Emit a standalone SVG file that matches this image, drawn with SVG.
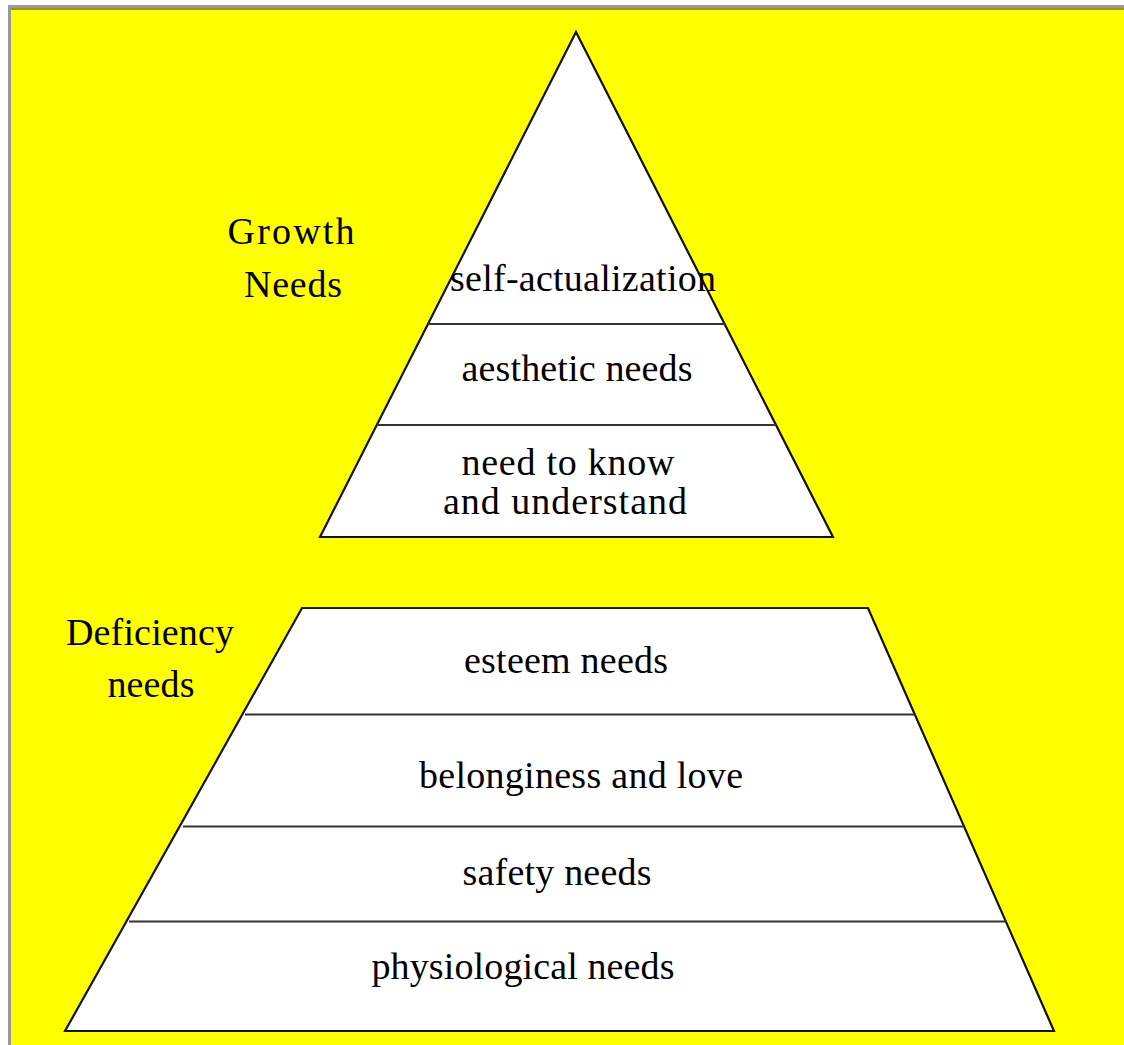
<svg xmlns="http://www.w3.org/2000/svg" width="1124" height="1045" viewBox="0 0 1124 1045">
<style>
.t{font-family:"Liberation Serif","Times New Roman",serif;font-size:38px;fill:#000;text-anchor:middle}
.shape{fill:#fff;stroke:#111;stroke-width:2.2;stroke-linejoin:miter}
.div{stroke:#333;stroke-width:2}
</style>
<rect x="0" y="0" width="1124" height="1045" fill="#fff"/>
<rect x="10" y="7" width="1114" height="1038" fill="#ffff00"/>
<line x1="8" y1="6.5" x2="1124" y2="6.5" stroke="#999" stroke-width="3"/>
<line x1="9.5" y1="5" x2="9.5" y2="1045" stroke="#999" stroke-width="3"/>
<line x1="11" y1="9" x2="1124" y2="9" stroke="#999900" stroke-width="2"/>
<g id="labels">
<text class="t" x="291" y="244" textLength="127" lengthAdjust="spacing">Growth</text>
<text class="t" x="293" y="297" textLength="98" lengthAdjust="spacing">Needs</text>
<text class="t" x="150" y="645" textLength="168" lengthAdjust="spacing">Deficiency</text>
<text class="t" x="151" y="697" textLength="87" lengthAdjust="spacing">needs</text>
</g>
<g id="growth-pyramid">
<polygon class="shape" points="576,32 833,537 320,537"/>
</g>
<g id="deficiency-pyramid">
<polygon class="shape" points="302,608 868,608 1054,1031 65,1031"/>
</g>
<g id="connectors">
<line class="div" x1="428" y1="324" x2="725" y2="324"/>
<line class="div" x1="377" y1="425" x2="776" y2="425"/>
<line class="div" x1="245" y1="714.5" x2="915" y2="714.5"/>
<line class="div" x1="183" y1="826.5" x2="964" y2="826.5"/>
<line class="div" x1="129" y1="921.5" x2="1007" y2="921.5"/>
</g>
<g id="self-actualization"><text class="t" x="583" y="291" textLength="266" lengthAdjust="spacing">self-actualization</text></g>
<g id="aesthetic"><text class="t" x="577" y="381" textLength="231" lengthAdjust="spacing">aesthetic needs</text></g>
<g id="know"><text class="t" x="568" y="475" textLength="213" lengthAdjust="spacing">need to know</text>
<text class="t" x="565" y="514" textLength="244" lengthAdjust="spacing">and understand</text></g>
<g id="esteem"><text class="t" x="566" y="673" textLength="204" lengthAdjust="spacing">esteem needs</text></g>
<g id="belonging"><text class="t" x="581" y="788" textLength="324" lengthAdjust="spacing">belonginess and love</text></g>
<g id="safety"><text class="t" x="557" y="885" textLength="189" lengthAdjust="spacing">safety needs</text></g>
<g id="physiological"><text class="t" x="523" y="979" textLength="303" lengthAdjust="spacing">physiological needs</text></g>
</svg>
